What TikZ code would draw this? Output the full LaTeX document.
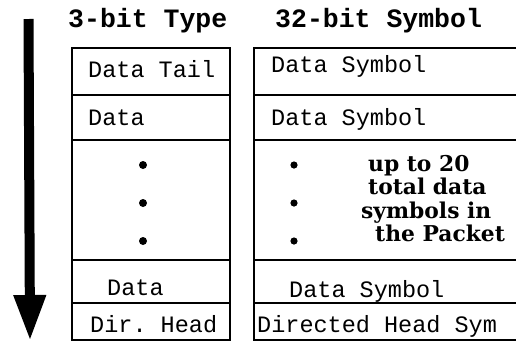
\documentclass[tikz,border=0pt]{standalone}
\usepackage{fontspec}
\setmonofont{Liberation Mono}
\newfontfamily\notefont{DejaVu Serif}
\usetikzlibrary{arrows.meta}

\tikzset{
  cell/.style={anchor=base west, inner sep=0pt, font=\fontsize{23.5}{24}\selectfont\ttfamily},
  head/.style={anchor=base west, inner sep=0pt, font=\fontsize{26.5}{27}\selectfont\ttfamily\bfseries},
  grid/.style={line width=1.8pt}
}

\begin{document}
\begin{tikzpicture}[x=1pt,y=-1pt]
  \useasboundingbox (0,0) rectangle (516,341);
  % time arrow
  \coordinate (T0) at (28.5,19);
  \coordinate (T1) at (30,341);
  \draw[line width=10pt, -{Triangle[length=46pt,width=30pt]}] (T0) -- (T1);
  % column headers
  \node[head] (hType) at (68,27) {3-bit Type};
  \node[head] (hSym) at (275,27) {32-bit Symbol};
  % left column
  \draw[grid] (72,48) rectangle (230,340);
  \foreach \y in {95,140,260,303}
    \draw[grid] (72,\y) -- (230,\y);
  % right column (runs off the right edge)
  \draw[grid] (516,48) -- (254,48) -- (254,340) -- (516,340);
  \foreach \y in {95,140,260,303}
    \draw[grid] (254,\y) -- (516,\y);
  % type entries
  \node[cell] (tTail) at (88,77) {Data Tail};
  \node[cell] (tData) at (88,125) {Data};
  \node[cell] (tLast) at (107,295) {Data};
  \node[cell] (tHead) at (90,332) {Dir. Head};
  % symbol entries
  \node[cell] (sTail) at (271,72) {Data Symbol};
  \node[cell] (sData) at (271,125) {Data Symbol};
  \node[cell] (sLast) at (289,297) {Data Symbol};
  \node[cell] (sHead) at (257,332) {Directed Head Sym};
  % dots
  \foreach \y in {165,203,241} {
    \fill (143,\y) circle (4pt);
    \fill (294,\y) circle (3.6pt);
  }
  \node[anchor=north west, inner sep=0pt, align=left,
        font=\fontsize{21.8}{23.5}\selectfont\notefont\bfseries] (note) at (368,155)
    {up to 20\\total data\\\hspace{-7pt}symbols in\\\hspace{7pt}the Packet};
\end{tikzpicture}
\end{document}
